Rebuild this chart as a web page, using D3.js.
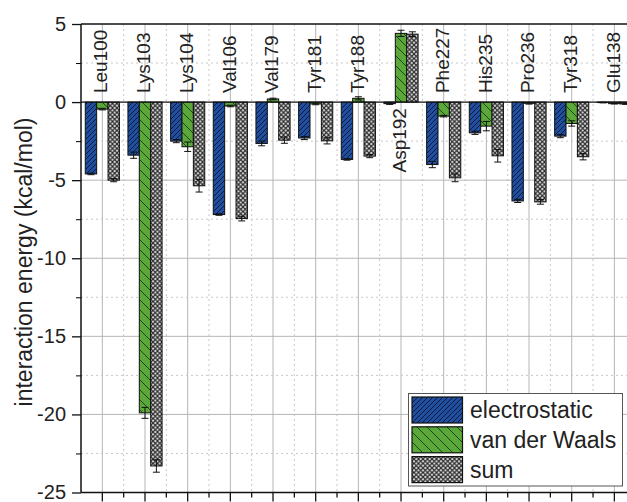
<!DOCTYPE html>
<html><head><meta charset="utf-8">
<script src="https://cdn.jsdelivr.net/npm/d3@7"></script>
<style>body{margin:0;background:#fff}svg{display:block;font-family:"Liberation Sans",Arial,sans-serif}</style>
</head><body><svg id="c" width="627" height="502"></svg>
<script>
const categories = ["Leu100","Lys103","Lys104","Val106","Val179","Tyr181","Tyr188","Asp192","Phe227","His235","Pro236","Tyr318","Glu138"];
const seriesNames = ["electrostatic","van der Waals","sum"];
const electrostatic = [-4.6,-3.4,-2.5,-7.2,-2.65,-2.3,-3.67,-0.1,-4.0,-1.97,-6.33,-2.18,-0.03];
const vdw = [-0.45,-19.9,-2.86,-0.25,0.2,-0.12,0.24,4.4,-0.9,-1.54,-0.08,-1.37,-0.1];
const sum = [-5.0,-23.3,-5.36,-7.46,-2.44,-2.48,-3.46,4.35,-4.85,-3.44,-6.39,-3.5,-0.12];
const errElec = [0.05,0.2,0.1,0.05,0.15,0.1,0.05,0.05,0.2,0.1,0.1,0.1,0.02];
const errVdw = [0.05,0.35,0.3,0.05,0.05,0.05,0.1,0.2,0.05,0.3,0.05,0.17,0.02];
const errSum = [0.1,0.4,0.4,0.15,0.2,0.2,0.1,0.15,0.25,0.4,0.15,0.2,0.02];
const yTicksMajor = [5,0,-5,-10,-15,-20,-25];
const yTicksMinor = [2.5,-2.5,-7.5,-12.5,-17.5,-22.5];
const yTitle = "interaction energy (kcal/mol)";

const values = [electrostatic, vdw, sum];
const errors = [errElec, errVdw, errSum];
const svg = d3.select("#c");
const L = 81, R = 81 + 13*42.67, T = 24, B = 492.5;
const x = d3.scaleBand().domain(categories).range([L, R]).padding(0);
const bw = x.bandwidth();
const xs = d3.scaleBand().domain(seriesNames).range([0.1*bw, 0.9*bw]).padding(0);
const y = d3.scaleLinear().domain([-25, 5]).range([B, T]);

const defs = svg.append("defs");
const pb = defs.append("pattern").attr("id","pBlue").attr("patternUnits","userSpaceOnUse").attr("width",5).attr("height",5);
pb.append("rect").attr("width",5).attr("height",5).attr("fill","#1f4f9e");
pb.append("path").attr("d","M-1,1 L1,-1 M0,5 L5,0 M4,6 L6,4").attr("stroke","#0b1a3c").attr("stroke-width",1);
const pg = defs.append("pattern").attr("id","pGreen").attr("patternUnits","userSpaceOnUse").attr("width",10).attr("height",10);
pg.append("rect").attr("width",10).attr("height",10).attr("fill","#5aa83a");
pg.append("path").attr("d","M0,0 L10,10 M-1,9 L1,11 M9,-1 L11,1").attr("stroke","#1d3a12").attr("stroke-width",0.9);
const ps = defs.append("pattern").attr("id","pSum").attr("patternUnits","userSpaceOnUse").attr("width",4.5).attr("height",4.5);
ps.append("rect").attr("width",4.5).attr("height",4.5).attr("fill","#e6e6e6");
ps.append("path").attr("d","M0,0 L4.5,4.5 M4.5,0 L0,4.5").attr("stroke","#2a2a2a").attr("stroke-width",1.2);
const fills = ["url(#pBlue)","url(#pGreen)","url(#pSum)"];

// grid
const g = svg.append("g");
g.selectAll(".vmaj").data(categories).join("line")
  .attr("x1",d=>x(d)+bw/2).attr("x2",d=>x(d)+bw/2).attr("y1",T).attr("y2",B)
  .attr("stroke","#b5b5b5").attr("stroke-width",1);
g.selectAll(".vmin").data(categories).join("line")
  .attr("x1",d=>x(d)+bw).attr("x2",d=>x(d)+bw).attr("y1",T).attr("y2",B)
  .attr("stroke","#c8c8c8").attr("stroke-width",1).attr("stroke-dasharray","2,3");
g.selectAll(".hmaj").data(yTicksMajor.filter(v=>v<0&&v>-25)).join("line")
  .attr("x1",L).attr("x2",627).attr("y1",d=>y(d)).attr("y2",d=>y(d))
  .attr("stroke","#b5b5b5").attr("stroke-width",1);
g.selectAll(".hmin").data(yTicksMinor).join("line")
  .attr("x1",L).attr("x2",627).attr("y1",d=>y(d)).attr("y2",d=>y(d))
  .attr("stroke","#c8c8c8").attr("stroke-width",1).attr("stroke-dasharray","2,3");

// bars
const bars = svg.append("g");
seriesNames.forEach((s,si)=>{
  bars.selectAll(".b"+si).data(categories).join("rect")
    .attr("x",d=>x(d)+xs(s)).attr("width",xs.bandwidth())
    .attr("y",(d,i)=>y(Math.max(0,values[si][i])))
    .attr("height",(d,i)=>Math.abs(y(values[si][i])-y(0)))
    .attr("fill",fills[si]).attr("stroke","#111").attr("stroke-width",1);
});
// error bars
seriesNames.forEach((s,si)=>{
  const eg = svg.append("g").attr("stroke","#111").attr("stroke-width",1);
  categories.forEach((c,i)=>{
    const cx = x(c)+xs(s)+xs.bandwidth()/2;
    const v = values[si][i], e = errors[si][i];
    eg.append("line").attr("x1",cx).attr("x2",cx).attr("y1",y(v-e)).attr("y2",y(v+e));
    [v-e,v+e].forEach(t=>eg.append("line").attr("x1",cx-3.5).attr("x2",cx+3.5).attr("y1",y(t)).attr("y2",y(t)));
  });
});

// zero line and frame
svg.append("line").attr("x1",L).attr("x2",627).attr("y1",y(0)).attr("y2",y(0)).attr("stroke","#111").attr("stroke-width",1.3);
svg.append("line").attr("x1",L).attr("x2",627).attr("y1",T).attr("y2",T).attr("stroke","#111").attr("stroke-width",1.5);

// axes
const ya = svg.append("g").attr("transform",`translate(${L},0)`)
  .call(d3.axisLeft(y).tickValues(yTicksMajor).tickSize(9).tickFormat(d=>String(d)));
svg.append("g").attr("transform",`translate(${L},0)`)
  .call(d3.axisLeft(y).tickValues(yTicksMinor).tickSize(5).tickFormat(""))
  .call(a=>a.select(".domain").remove());
ya.selectAll("text").attr("font-size",20).attr("fill","#222").attr("x",-15).attr("font-family","Liberation Sans, Arial, sans-serif");
ya.select(".domain").attr("d",`M0,${T}V${B}`).attr("stroke","#111").attr("stroke-width",1.5);
ya.selectAll(".tick line").attr("stroke","#111").attr("stroke-width",1.3);

const xa = svg.append("g").attr("transform",`translate(0,${B})`)
  .call(d3.axisBottom(x).tickSize(9).tickFormat(""));
xa.select(".domain").attr("d",`M${L},0H627`).attr("stroke","#111").attr("stroke-width",1.5);
xa.selectAll(".tick line").attr("stroke","#111").attr("stroke-width",1.3);
svg.append("g").selectAll("line").data(categories).join("line")
  .attr("x1",d=>x(d)+bw).attr("x2",d=>x(d)+bw).attr("y1",B).attr("y2",B+5)
  .attr("stroke","#111").attr("stroke-width",1.3);

// category labels
svg.append("g").selectAll("text").data(categories).join("text")
  .attr("transform",(d,i)=>{
    const pos = sum[i] > 0;
    return `translate(${x(d)+bw/2-1.5},${pos? y(0)+6 : y(0)-9}) rotate(-90)`;
  })
  .attr("text-anchor",(d,i)=> sum[i] > 0 ? "end" : "start")
  .attr("dy","0.35em").attr("font-size",19).attr("fill","#222").text(d=>d);

// y title
svg.append("text").attr("transform",`translate(24,262) rotate(-90)`)
  .attr("text-anchor","middle").attr("dy","0.35em").attr("font-size",23).attr("fill","#222").text(yTitle);

// legend
const lg = svg.append("g");
lg.append("rect").attr("x",408.5).attr("y",393.5).attr("width",214).attr("height",92.5)
  .attr("fill","#fff").attr("stroke","#555").attr("stroke-width",1);
seriesNames.forEach((s,si)=>{
  const yy = 397 + si*29.8;
  lg.append("rect").attr("x",412).attr("y",yy).attr("width",50.5).attr("height",26)
    .attr("fill",fills[si]).attr("stroke","#111").attr("stroke-width",1.2);
  lg.append("text").attr("x",470).attr("y",yy+13).attr("dy","0.35em")
    .attr("font-size",23).attr("fill","#222").text(s);
});
</script></body></html>
